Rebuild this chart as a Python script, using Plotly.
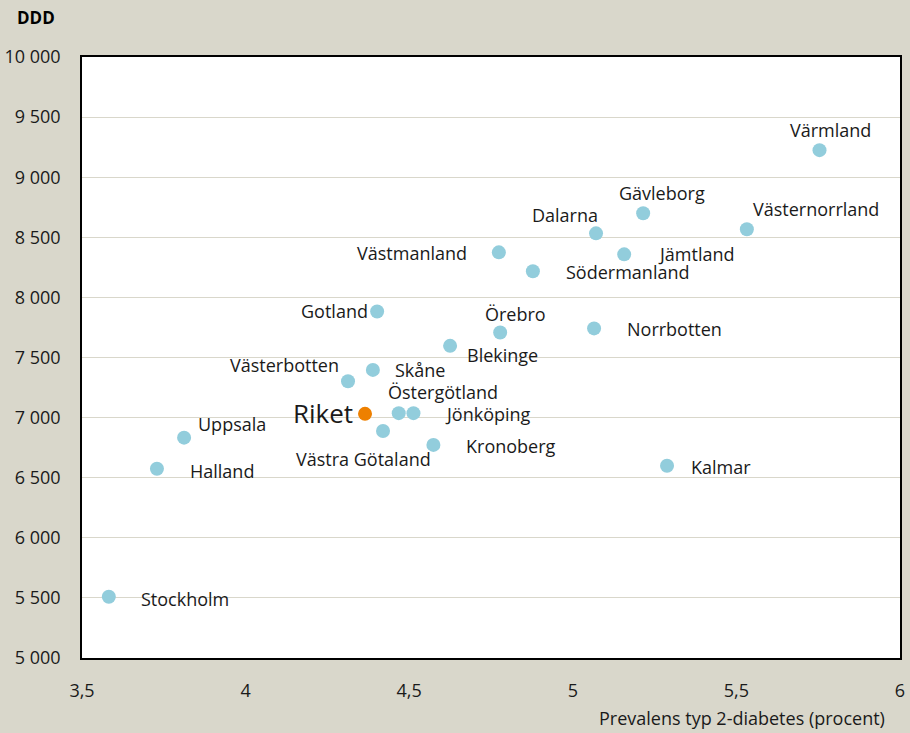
import plotly.graph_objects as go

regions = ["Värmland", "Västernorrland", "Gävleborg", "Dalarna", "Jämtland", "Västmanland",
           "Södermanland", "Gotland", "Örebro", "Norrbotten", "Blekinge", "Västerbotten",
           "Skåne", "Östergötland", "Jönköping", "Västra Götaland", "Kronoberg", "Uppsala",
           "Halland", "Kalmar", "Stockholm"]
prevalence = [5.754, 5.532, 5.215, 5.071, 5.157, 4.774,
              4.878, 4.402, 4.778, 5.065, 4.625, 4.313,
              4.389, 4.468, 4.513, 4.420, 4.574, 3.812,
              3.729, 5.288, 3.582]
ddd = [9225, 8567, 8700, 8533, 8358, 8375,
       8217, 7883, 7708, 7742, 7597, 7303,
       7397, 7037, 7037, 6889, 6773, 6833,
       6575, 6600, 5510]

riket_name = "Riket"
riket_x = [4.365]
riket_y = [7031]

# label placement (anchor, dx, dy) in pixels
label_pos = {
    "Värmland": ("center", 11, -20),
    "Västernorrland": ("left", 4, -20),
    "Gävleborg": ("left", -26, -20),
    "Dalarna": ("right", 4, -18),
    "Jämtland": ("left", 32, 0),
    "Västmanland": ("right", -30, 1),
    "Södermanland": ("left", 31, 1),
    "Gotland": ("right", -7, 0),
    "Örebro": ("left", -17, -19),
    "Norrbotten": ("left", 31, 1),
    "Blekinge": ("left", 15, 9),
    "Västerbotten": ("right", -7, -16),
    "Skåne": ("left", 20, 0),
    "Östergötland": ("left", -13, -21),
    "Jönköping": ("left", 30, 1),
    "Västra Götaland": ("left", -89, 28),
    "Kronoberg": ("left", 31, 1),
    "Uppsala": ("left", 12, -14),
    "Halland": ("left", 31, 2),
    "Kalmar": ("left", 22, 1),
    "Stockholm": ("left", 30, 2),
}

FONT = "Open Sans"
BG = "#d9d7cb"
GRID = "#d9d7cb"
TXT = "#1a1a1a"
FS = 18

fig = go.Figure()
fig.add_trace(go.Scatter(
    x=prevalence, y=ddd, mode="markers",
    marker=dict(size=14, color="#92cddc"),
    hoverinfo="text", text=regions, showlegend=False,
))
fig.add_trace(go.Scatter(
    x=riket_x, y=riket_y, mode="markers",
    marker=dict(size=14, color="#ee8000"),
    hoverinfo="text", text=[riket_name], showlegend=False,
))

annotations = []
for name, xv, yv in zip(regions, prevalence, ddd):
    anc, dx, dy = label_pos[name]
    annotations.append(dict(
        x=xv, y=yv, xref="x", yref="y", text=name, showarrow=False,
        xanchor=anc, yanchor="middle", xshift=dx, yshift=-dy,
        font=dict(family=FONT, size=FS, color=TXT),
    ))
annotations.append(dict(
    x=riket_x[0], y=riket_y[0], xref="x", yref="y", text=riket_name, showarrow=False,
    xanchor="right", yanchor="middle", xshift=-10, yshift=1,
    font=dict(family=FONT, size=26, color=TXT),
))
annotations.append(dict(
    x=0, y=1, xref="paper", yref="paper", text="<b>DDD</b>", showarrow=False,
    xanchor="left", yanchor="middle", xshift=-67, yshift=40,
    font=dict(family=FONT, size=17, color="#000000"),
))
annotations.append(dict(
    x=1, y=0, xref="paper", yref="paper", text="Prevalens typ 2-diabetes (procent)",
    showarrow=False, xanchor="right", yanchor="middle", xshift=-13, yshift=-60,
    font=dict(family=FONT, size=FS, color=TXT),
))

fig.update_layout(
    width=910, height=733,
    margin=dict(l=82, r=10, t=57, b=75, autoexpand=False),
    paper_bgcolor=BG, plot_bgcolor="white",
    separators=", ",
    annotations=annotations,
    font=dict(family=FONT, size=FS, color=TXT),
)
fig.update_xaxes(
    range=[3.5, 6], dtick=0.5, tick0=3.5, showgrid=False, zeroline=False,
    showline=True, linecolor="black", linewidth=1.5, mirror=True,
    ticks="", ticklabelstandoff=16, automargin=False,
    tickfont=dict(family=FONT, size=FS, color=TXT),
)
fig.update_yaxes(
    range=[5000, 10000], dtick=500, tick0=5000, tickformat=",d",
    showgrid=True, gridcolor=GRID, gridwidth=1, zeroline=False,
    showline=True, linecolor="black", linewidth=1.5, mirror=True,
    ticks="", ticklabelstandoff=16, automargin=False,
    tickfont=dict(family=FONT, size=FS, color=TXT),
)

fig.write_html(
    "out.html",
    config={"displayModeBar": False},
    post_script="document.body.style.margin='0';document.body.style.overflow='hidden';",
)
